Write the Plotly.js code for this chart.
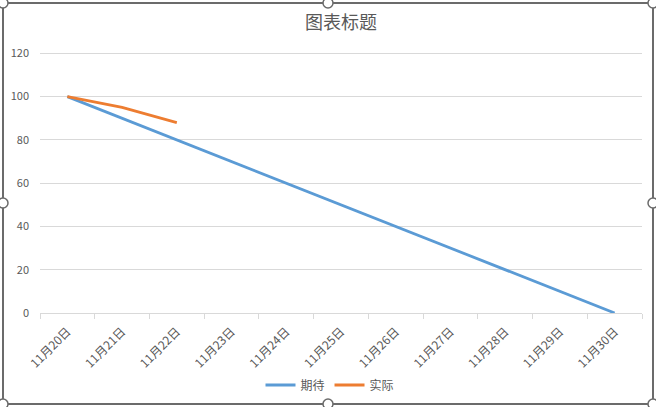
<!DOCTYPE html>
<html>
<head>
<meta charset="utf-8">
<script src="https://cdn.plot.ly/plotly-3.0.1.min.js"></script>
<style>
html,body{margin:0;padding:0;background:#fff;}
#chart{width:656px;height:407px;}
</style>
</head>
<body>
<div id="chart"></div>
<script>
const categories = ['11月20日','11月21日','11月22日','11月23日','11月24日','11月25日','11月26日','11月27日','11月28日','11月29日','11月30日'];
const expected = [100, 90, 80, 70, 60, 50, 40, 30, 20, 10, 0];
const actual = [100, 95, 88];
const seriesNames = ['期待', '实际'];
const yTicks = [0, 20, 40, 60, 80, 100, 120];

const FONT = '"Noto Sans CJK SC", "Noto Sans", sans-serif';
const L = 40, R = 14, T = 52, B = 94, W = 656, H = 407;
const pw = W - L - R, ph = H - T - B;
const px = v => (v - L) / pw;
const py = v => (H - B - v) / ph;

const frameColor = '#6b6b6b';
const shapes = [{
  type: 'rect', xref: 'paper', yref: 'paper',
  x0: px(3), x1: px(653), y0: py(404), y1: py(3),
  line: {color: frameColor, width: 2}, fillcolor: 'rgba(0,0,0,0)', layer: 'above'
}];
const handles = [[3,3],[328,3],[653,3],[3,203],[653,203],[3,404],[328,404],[653,404]];
handles.forEach(([hx, hy]) => {
  shapes.push({
    type: 'circle', xref: 'paper', yref: 'paper',
    xsizemode: 'pixel', ysizemode: 'pixel',
    xanchor: px(hx), yanchor: py(hy),
    x0: -5, x1: 5, y0: -5, y1: 5,
    line: {color: frameColor, width: 1.5}, fillcolor: '#ffffff', layer: 'above'
  });
});

const data = [
  {x: categories, y: expected, name: seriesNames[0], type: 'scatter', mode: 'lines',
   line: {color: '#5B9BD5', width: 2.8}},
  {x: categories.slice(0, actual.length), y: actual, name: seriesNames[1], type: 'scatter', mode: 'lines',
   line: {color: '#ED7D31', width: 2.8}}
];

const layout = {
  width: W, height: H,
  margin: {l: L, r: R, t: T, b: B, pad: 0, autoexpand: false},
  paper_bgcolor: '#ffffff', plot_bgcolor: '#ffffff',
  font: {family: FONT, color: '#595959', size: 11},
  title: {text: '图表标题', font: {family: FONT, size: 18, color: '#595959'},
          x: 0.5, xanchor: 'center', xref: 'paper', y: 1 - 23 / H, yref: 'container', yanchor: 'middle'},
  xaxis: {
    type: 'category', categoryorder: 'array', categoryarray: categories,
    range: [-0.5, categories.length - 0.5],
    tickson: 'boundaries', ticks: 'outside', ticklen: 5, tickcolor: '#d9d9d9', tickwidth: 1,
    showgrid: false, showline: true, linecolor: '#d9d9d9', linewidth: 1,
    tickangle: -45, ticklabelstandoff: 6, tickfont: {size: 12, color: '#595959', family: FONT},
    zeroline: false, fixedrange: true, automargin: false
  },
  yaxis: {
    range: [0, 120.6], tickvals: yTicks, ticktext: yTicks.map(String),
    showgrid: true, gridcolor: '#d9d9d9', gridwidth: 1,
    showline: false, zeroline: false, ticks: '', ticklabelstandoff: 10,
    tickfont: {size: 11, color: '#595959', family: FONT}, fixedrange: true, automargin: false
  },
  showlegend: true,
  legend: {orientation: 'h', x: (330 - L) / pw, xanchor: 'center', xref: 'paper', y: py(385), yanchor: 'middle',
           font: {size: 12, color: '#595959', family: FONT}, itemwidth: 30, bgcolor: 'rgba(0,0,0,0)'},
  shapes: shapes
};

Plotly.newPlot('chart', data, layout, {displayModeBar: false, staticPlot: true});
</script>
</body>
</html>
